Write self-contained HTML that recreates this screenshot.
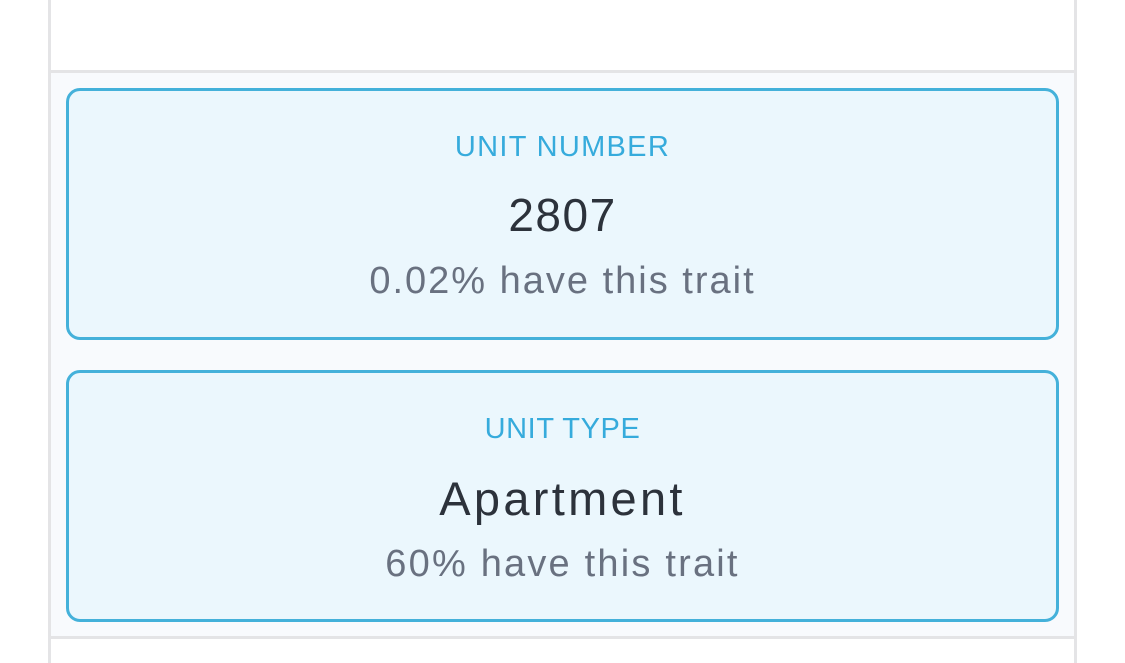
<!DOCTYPE html>
<html><head><meta charset="utf-8"><style>
*{box-sizing:border-box;margin:0;padding:0}
html,body{width:1125px;height:663px;overflow:hidden}
body{background:#fff;font-family:"Liberation Sans",sans-serif;position:relative}
.frame{position:absolute;left:48px;top:0;width:1029px;height:663px;border-left:3px solid #e4e4e6;border-right:3px solid #e4e4e6}
.section{position:absolute;left:51px;top:70px;width:1023px;height:569px;background:#f8fafd;border-top:3px solid #e4e4e6;border-bottom:3px solid #e4e4e6}
.card{position:absolute;left:66px;width:993px;height:252px;border:3px solid #44b1da;border-radius:14px;background:#ebf7fd;text-align:center}
.lbl{position:absolute;left:0;right:0;font-size:29px;letter-spacing:1.3px;color:#36abdc}
.val{position:absolute;left:0;right:0;font-size:46px;letter-spacing:1.5px;color:#2c323b}
.pct{position:absolute;left:0;right:0;font-size:38px;letter-spacing:2px;color:#697180}
</style></head><body>
<div class="frame"></div>
<div class="section"></div>
<div class="card" style="top:88px">
<div class="lbl" style="top:40px">UNIT NUMBER</div>
<div class="val" style="top:97px">2807</div>
<div class="pct" style="top:169px">0.02% have this trait</div>
</div>
<div class="card" style="top:370px">
<div class="lbl" style="top:40px;letter-spacing:0.6px">UNIT TYPE</div>
<div class="val" style="top:98px;font-size:47px;letter-spacing:3.3px">Apartment</div>
<div class="pct" style="top:170px;letter-spacing:2.2px">60% have this trait</div>
</div>
</body></html>
